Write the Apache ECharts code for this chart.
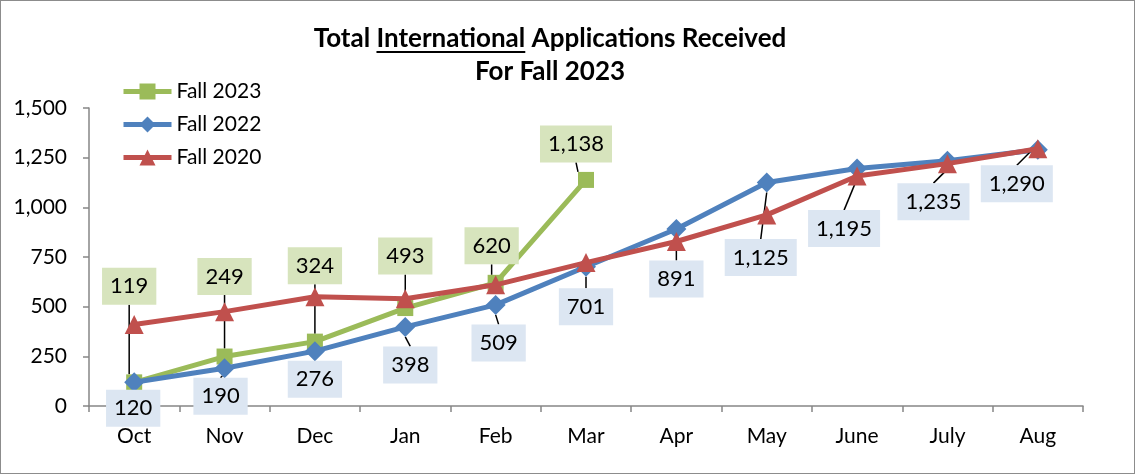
<!DOCTYPE html>
<html>
<head>
<meta charset="utf-8">
<title>Total International Applications</title>
<style>
  * { margin: 0; padding: 0; }
  #chart-container {
    width: 1135px;
    height: 474px;
    box-sizing: border-box;
    border: 1px solid #8c8c8c;
  }
</style>
</head>
<body>
<div id="chart-container"></div>
<script src="https://cdn.jsdelivr.net/npm/echarts@6/dist/echarts.min.js"></script>
<script>
var months = ['Oct', 'Nov', 'Dec', 'Jan', 'Feb', 'Mar', 'Apr', 'May', 'June', 'July', 'Aug'];
var fall2023 = [119, 249, 324, 493, 620, 1138];
var fall2022 = [120, 190, 276, 398, 509, 701, 891, 1125, 1195, 1235, 1290];
var fall2020 = [410, 475, 550, 540, 610, 722, 828, 962, 1158, 1220, 1295];
var yTicks = [0, 250, 500, 750, 1000, 1250, 1500];

// label box offsets from the point (layout only)
var offs2023 = [[-5, -96], [0, -80], [0, -76], [0, -52], [-4, -37], [-10, -36]];
var offs2022 = [[-1, 26], [-4, 28], [0, 28], [5, 38], [3, 38], [0, 40], [0, 50], [-6, 75], [-13, 60], [-14, 41], [-21, 34]];

var FONT = 'Lato, "Open Sans", sans-serif';
var TITLE_FONT = 'bold 26px ' + FONT;

var dom = document.getElementById('chart-container');
var myChart = echarts.init(dom, null, { renderer: 'canvas' });

// measure title pieces for the underline
var ctx = document.createElement('canvas').getContext('2d');
ctx.font = TITLE_FONT;
var t1 = 'Total International Applications Received';
var wAll = ctx.measureText(t1).width;
var wPre = ctx.measureText('Total ').width;
var wU = ctx.measureText('International').width;
var titleX = 549;
var uStart = titleX - wAll / 2 + wPre;

function labelCfg(bg) {
  return {
    show: true,
    position: 'inside',
    color: '#000',
    fontFamily: FONT,
    fontSize: 22,
    backgroundColor: bg,
    padding: [8, 8, 7, 8],
    formatter: function (p) { return p.value.toLocaleString('en-US'); }
  };
}

var option = {
  animation: false,
  textStyle: { fontFamily: FONT },
  graphic: [
    {
      type: 'text', x: titleX, y: 38,
      style: { text: t1, font: TITLE_FONT, fill: '#000', align: 'center', verticalAlign: 'middle' }
    },
    {
      type: 'text', x: titleX, y: 71,
      style: { text: 'For Fall 2023', font: TITLE_FONT, fill: '#000', align: 'center', verticalAlign: 'middle' }
    },
    {
      type: 'line',
      shape: { x1: uStart, y1: 51, x2: uStart + wU, y2: 51 },
      style: { stroke: '#000', lineWidth: 2 }
    }
  ],
  legend: {
    orient: 'vertical',
    left: 120,
    top: 80,
    padding: 0,
    itemWidth: 48,
    itemHeight: 20,
    itemGap: 12,
    lineStyle: { width: 5 },
    textStyle: { fontSize: 21, color: '#000', fontFamily: FONT },
    data: ['Fall 2023', 'Fall 2022', 'Fall 2020']
  },
  grid: { left: 88, right: 51, top: 107, bottom: 67 },
  xAxis: {
    type: 'category',
    data: months,
    boundaryGap: true,
    axisLine: { lineStyle: { color: '#868686', width: 1.5 } },
    axisTick: { show: true, length: 6, lineStyle: { color: '#868686', width: 1.5 } },
    axisLabel: { color: '#000', fontSize: 21, margin: 20, fontFamily: FONT }
  },
  yAxis: {
    type: 'value',
    min: 0,
    max: 1500,
    interval: 250,
    splitLine: { show: false },
    axisLine: { show: true, lineStyle: { color: '#868686', width: 1.5 } },
    axisTick: { show: true, length: 6, lineStyle: { color: '#868686', width: 1.5 } },
    axisLabel: {
      color: '#000', fontSize: 21, margin: 22, fontFamily: FONT,
      formatter: function (v) { return yTicks.indexOf(v) >= 0 ? v.toLocaleString('en-US') : ''; }
    }
  },
  series: [
    {
      name: 'Fall 2023',
      type: 'line',
      data: fall2023,
      symbol: 'rect',
      symbolSize: 16,
      color: '#9bbb59',
      lineStyle: { width: 5, color: '#9bbb59' },
      itemStyle: { color: '#9bbb59' },
      label: labelCfg('#d7e4bd'),
      labelLine: { show: true, lineStyle: { color: '#000', width: 1.5 } },
      labelLayout: function (p) {
        var o = offs2023[p.dataIndex] || [0, -40];
        return { dx: o[0], dy: o[1] };
      },
      z: 2
    },
    {
      name: 'Fall 2022',
      type: 'line',
      data: fall2022,
      symbol: 'diamond',
      symbolSize: 20,
      color: '#4f81bd',
      lineStyle: { width: 5, color: '#4f81bd' },
      itemStyle: { color: '#4f81bd' },
      label: labelCfg('#dce6f2'),
      labelLine: { show: true, lineStyle: { color: '#000', width: 1.5 } },
      labelLayout: function (p) {
        var o = offs2022[p.dataIndex] || [0, 35];
        return { dx: o[0], dy: o[1] };
      },
      z: 3
    },
    {
      name: 'Fall 2020',
      type: 'line',
      data: fall2020,
      symbol: 'triangle',
      symbolSize: 19,
      color: '#c0504d',
      lineStyle: { width: 5, color: '#c0504d' },
      itemStyle: { color: '#c0504d' },
      z: 4
    }
  ]
};

myChart.setOption(option);
window.addEventListener('resize', myChart.resize);
</script>
</body>
</html>
